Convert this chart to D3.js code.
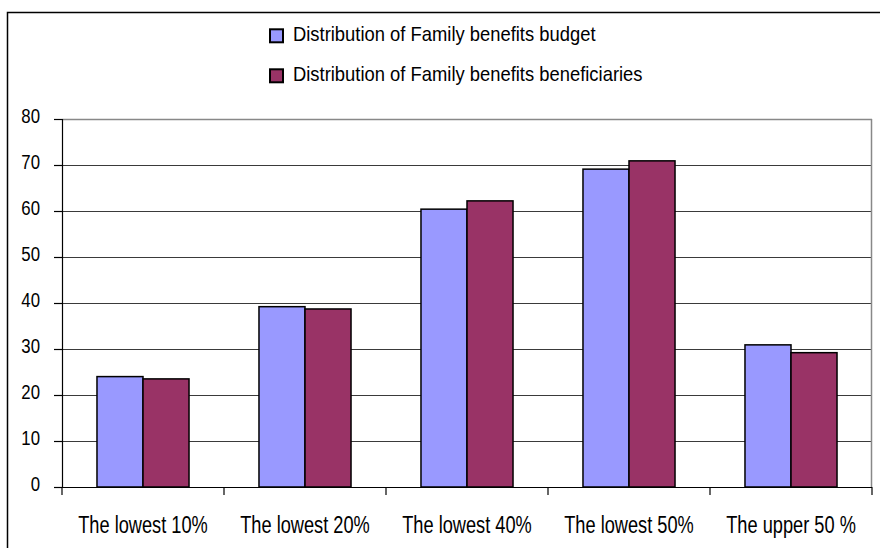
<!DOCTYPE html>
<html>
<head>
<meta charset="utf-8">
<script src="https://cdn.jsdelivr.net/npm/d3@7"></script>
<style>
  html, body { margin: 0; padding: 0; background: #fff; }
  svg text { font-family: "Liberation Sans", Arial, sans-serif; fill: #000; }
</style>
</head>
<body>
<svg id="chart" width="880" height="548"></svg>
<script>
const categories = ["The lowest 10%", "The lowest 20%", "The lowest 40%", "The lowest 50%", "The upper 50 %"];
const seriesNames = ["Distribution of Family benefits budget", "Distribution of Family benefits beneficiaries"];
const budgetValues = [24.0, 39.2, 60.4, 69.1, 30.9];
const beneficiaryValues = [23.5, 38.7, 62.2, 70.9, 29.2];
const yTicks = [0, 10, 20, 30, 40, 50, 60, 70, 80];
const seriesColors = ["#9999FF", "#993366"];

const svg = d3.select("#chart");
const plot = { left: 62, right: 872, top: 119, bottom: 487 };

// outer chart border (extends past right/bottom edges)
svg.append("rect")
  .attr("x", 7.5).attr("y", 12.5)
  .attr("width", 900).attr("height", 600)
  .attr("fill", "#fff").attr("stroke", "#000").attr("stroke-width", 1.5);

const x0 = d3.scaleBand().domain(categories).range([plot.left, plot.right]).padding(0);
const x1 = d3.scaleBand().domain(seriesNames).range([0, x0.bandwidth()]).paddingInner(0).paddingOuter(0.76);
const y = d3.scaleLinear().domain([0, 80]).range([plot.bottom, plot.top]);

// gridlines
svg.append("g").selectAll("line").data(yTicks.filter(t => t > 0 && t < 80)).join("line")
  .attr("x1", plot.left).attr("x2", plot.right)
  .attr("y1", d => Math.round(y(d)) + 0.5).attr("y2", d => Math.round(y(d)) + 0.5)
  .attr("stroke", "#3a3a3a").attr("stroke-width", 1.2);

// plot area border (top and right) in grey
svg.append("line").attr("x1", plot.left).attr("x2", plot.right)
  .attr("y1", Math.round(y(80)) + 0.5).attr("y2", Math.round(y(80)) + 0.5)
  .attr("stroke", "#888").attr("stroke-width", 1.5);
svg.append("line").attr("x1", plot.right - 0.5).attr("x2", plot.right - 0.5)
  .attr("y1", y(80)).attr("y2", y(0))
  .attr("stroke", "#888").attr("stroke-width", 1.5);

// bars
const data = categories.map((c, i) => ({ cat: c, values: [budgetValues[i], beneficiaryValues[i]] }));
const groups = svg.append("g").selectAll("g").data(data).join("g")
  .attr("transform", d => `translate(${x0(d.cat)},0)`);
groups.selectAll("rect").data(d => d.values.map((v, j) => ({ name: seriesNames[j], v, j }))).join("rect")
  .attr("x", d => x1(d.name))
  .attr("y", d => y(d.v))
  .attr("width", x1.bandwidth())
  .attr("height", d => y(0) - y(d.v))
  .attr("fill", d => seriesColors[d.j])
  .attr("stroke", "#000").attr("stroke-width", 1.5);

// y axis
const yAxis = d3.axisLeft(y).tickValues(yTicks).tickSize(8).tickFormat(d3.format("d"));
const yg = svg.append("g").attr("transform", `translate(${plot.left},0)`).call(yAxis);
yg.select(".domain").attr("stroke", "#000").attr("stroke-width", 1.2);
yg.selectAll(".tick line").attr("stroke", "#000").attr("stroke-width", 1.2);
yg.selectAll(".tick text")
  .attr("font-family", null)
  .attr("font-size", 21)
  .attr("x", null).attr("dy", null)
  .attr("text-anchor", "end")
  .attr("transform", "translate(-22,3.7) scale(0.8,1)");

// x axis: ticks at category boundaries
const xg = svg.append("g").attr("transform", `translate(0,${plot.bottom})`);
xg.append("line").attr("x1", plot.left).attr("x2", plot.right).attr("y1", 0.5).attr("y2", 0.5)
  .attr("stroke", "#000").attr("stroke-width", 1.2);
const boundaries = categories.map(c => x0(c)).concat([x0(categories[categories.length - 1]) + x0.bandwidth()]);
xg.selectAll("line.tk").data(boundaries).join("line").attr("class", "tk")
  .attr("x1", d => d).attr("x2", d => d).attr("y1", 0).attr("y2", 8)
  .attr("stroke", "#000").attr("stroke-width", 1.2);
xg.selectAll("text").data(categories).join("text")
  .attr("text-anchor", "middle")
  .attr("font-size", 24)
  .attr("transform", d => `translate(${x0(d) + x0.bandwidth() / 2},46) scale(0.76,1)`)
  .text(d => d);

// legend
const legend = svg.append("g");
const legendRows = legend.selectAll("g").data(seriesNames).join("g")
  .attr("transform", (d, i) => `translate(270,${29.3 + i * 40})`);
legendRows.append("rect").attr("x", 0).attr("y", 0).attr("width", 13).attr("height", 13)
  .attr("fill", (d, i) => seriesColors[i]).attr("stroke", "#000").attr("stroke-width", 2);
legendRows.append("text")
  .attr("font-size", 20)
  .attr("transform", "translate(23,11.4) scale(0.92,1)")
  .text(d => d);
</script>
</body>
</html>
